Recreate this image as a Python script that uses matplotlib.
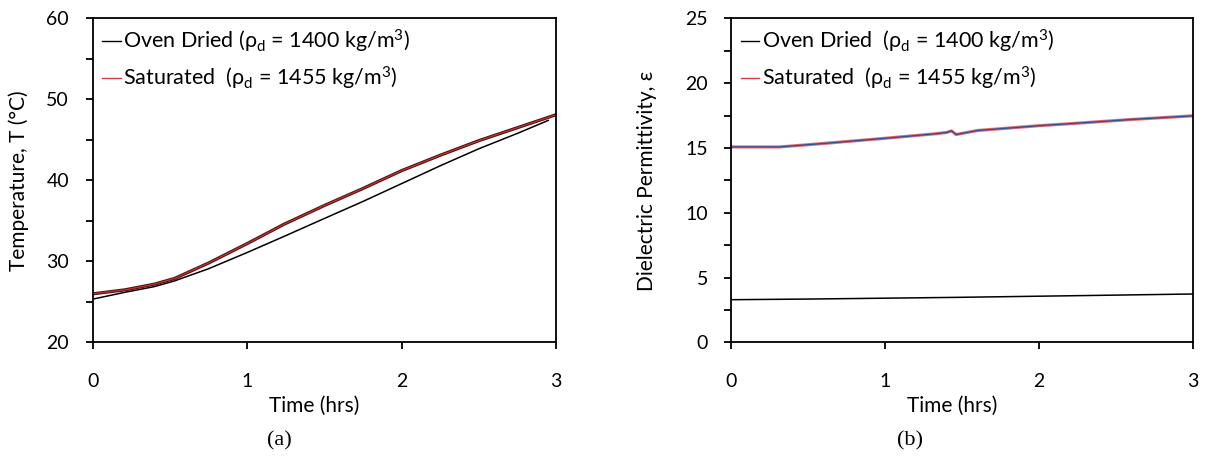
import matplotlib
matplotlib.use("Agg")
import matplotlib.pyplot as plt
import matplotlib.patheffects as pe
from matplotlib.ticker import MultipleLocator

plt.rcParams['font.family'] = ['Lato', 'DejaVu Sans']
plt.rcParams['mathtext.fontset'] = 'custom'
plt.rcParams['mathtext.rm'] = 'Lato'
plt.rcParams['mathtext.it'] = 'Lato:italic'

# (a) temperature histories
t_sat_a = [0, 0.21, 0.40, 0.53, 0.75, 1.00, 1.24, 1.50, 1.75, 2.00, 2.25, 2.50, 2.75, 3.00]
temp_sat = [26.0, 26.5, 27.2, 27.9, 29.8, 32.2, 34.6, 36.9, 39.0, 41.2, 43.1, 44.9, 46.5, 48.1]
t_oven_a = [0, 0.21, 0.40, 0.53, 0.75, 1.00, 1.24, 1.50, 1.75, 2.00, 2.25, 2.50, 2.75, 2.95]
temp_oven = [25.35, 26.2, 26.9, 27.6, 29.1, 31.1, 33.1, 35.3, 37.4, 39.6, 41.8, 43.9, 45.8, 47.4]

# (b) dielectric permittivity histories
t_sat_b = [0, 0.31, 0.60, 1.00, 1.33, 1.40, 1.43, 1.46, 1.60, 2.00, 2.22, 2.60, 3.00]
eps_sat = [15.08, 15.08, 15.35, 15.75, 16.10, 16.20, 16.32, 16.04, 16.35, 16.72, 16.89, 17.20, 17.48]
t_oven_b = [0, 0.50, 1.46, 2.30, 3.00]
eps_oven = [3.30, 3.35, 3.48, 3.62, 3.74]

lab_oven_a = r"Oven Dried (ρ$_{\mathregular{d}}$ = 1400 kg/m$^{\mathregular{3}}$)"
lab_sat_a = r"Saturated  (ρ$_{\mathregular{d}}$ = 1455 kg/m$^{\mathregular{3}}$)"
lab_oven_b = r"Oven Dried  (ρ$_{\mathregular{d}}$ = 1400 kg/m$^{\mathregular{3}}$)"
lab_sat_b = r"Saturated  (ρ$_{\mathregular{d}}$ = 1455 kg/m$^{\mathregular{3}}$)"

FS_TICK = 14
FS_LAB = 15
FS_LEG = 15.5

fig = plt.figure(figsize=(12.07, 4.58), dpi=100)
ax1 = fig.add_axes([0.0768, 0.2522, 0.3838, 0.7078])
ax2 = fig.add_axes([0.606, 0.2522, 0.3824, 0.7078])


def style(ax, ymin, ymax, ymaj, ymin_step):
    ax.set_xlim(0, 3)
    ax.set_ylim(ymin, ymax)
    ax.xaxis.set_major_locator(MultipleLocator(1))
    ax.yaxis.set_major_locator(MultipleLocator(ymaj))
    ax.yaxis.set_minor_locator(MultipleLocator(ymin_step))
    for s in ax.spines.values():
        s.set_linewidth(1.3)
        s.set_color('black')
    ax.tick_params(axis='both', which='both', direction='out', length=5,
                   width=1.3, labelsize=FS_TICK, colors='black')
    ax.tick_params(axis='y', pad=12)
    ax.tick_params(axis='x', pad=17)
    ax.tick_params(top=False, right=False)
    ax.set_xlabel('Time (hrs)', fontsize=FS_LAB)


# panel (a)
ax1.plot(t_oven_a, temp_oven, color='black', lw=1.1, label=lab_oven_a)
ax1.plot(t_sat_a, temp_sat, color='#c0302a', lw=0.9, label=lab_sat_a,
         path_effects=[pe.Stroke(linewidth=2.3, foreground='#4a1414'), pe.Normal()])
style(ax1, 20, 60, 10, 5)
ax1.set_ylabel('Temperature, T (°C)', fontsize=FS_LAB)
ax1.yaxis.set_label_coords(-0.1376, 0.5)

# panel (b)
ax2.plot(t_oven_b, eps_oven, color='black', lw=1.1, label=lab_oven_b)
ax2.plot(t_sat_b, eps_sat, color='#e0606a', lw=2.3, label=lab_sat_b, alpha=0.9)
ax2.plot(t_sat_b, eps_sat, color='#34508f', lw=1.0)
style(ax2, 0, 25, 5, 2.5)
ax2.set_ylabel('Dielectric Permittivity, ε', fontsize=FS_LAB)
ax2.yaxis.set_label_coords(-0.161, 0.5)

for ax in (ax1, ax2):
    leg = ax.legend(loc='upper left', frameon=False, fontsize=FS_LEG,
                    handlelength=0.85, handletextpad=0.1, labelspacing=0.45,
                    borderaxespad=0.3, borderpad=0.15)
    for h in leg.legend_handles:
        h.set_linewidth(1.0)
    leg.legend_handles[1].set_color('#d04040')
    leg.legend_handles[1].set_path_effects([])
    leg.legend_handles[1].set_alpha(1)

# x-axis titles sit a little left of the axes centre
fig.canvas.draw()
for ax, xc in ((ax1, 314), (ax2, 952)):
    ax.xaxis.set_label_coords((xc - ax.bbox.x0) / ax.bbox.width, -0.165)

fig.text(279 / 1207, 1 - 441 / 458, '(a)', fontsize=16, family='Liberation Serif',
         ha='center', va='center')
fig.text(910 / 1207, 1 - 441 / 458, '(b)', fontsize=16, family='Liberation Serif',
         ha='center', va='center')

fig.savefig('out.png', dpi=100)
